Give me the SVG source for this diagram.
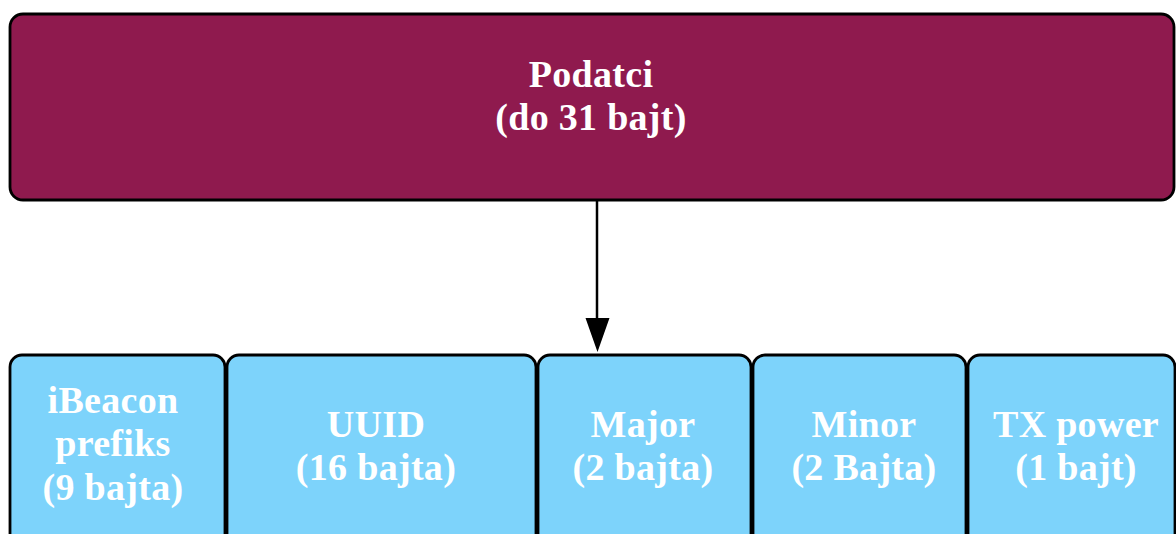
<svg xmlns="http://www.w3.org/2000/svg" width="1176" height="534" viewBox="0 0 1176 534">
  <style>
    .top { fill: #8F1A4E; stroke: #000; stroke-width: 2.8; }
    .fld { fill: #7DD3FB; stroke: #000; stroke-width: 2.8; }
    .lbl { font-family: "Liberation Serif", "Times New Roman", serif; font-weight: bold; font-size: 38px; letter-spacing: 0.3px; fill: #FFFFFF; text-anchor: middle; }
    .conn { stroke: #000; stroke-width: 2.5; fill: none; }
    .head { fill: #000; }
  </style>
  <rect width="1176" height="534" fill="#FFFFFF"/>
  <g id="connectors">
    <path class="conn" d="M597,200 L597,318"/>
    <path class="head" d="M585.5,318 L609.5,318 L597.5,352 Z"/>
  </g>
  <g id="podatci">
    <rect class="top" x="10" y="14" width="1164" height="186" rx="13" ry="13"/>
    <text class="lbl" x="591" y="87">Podatci</text>
    <text class="lbl" x="591" y="130">(do 31 bajt)</text>
  </g>
  <g id="ibeacon">
    <rect class="fld" x="10" y="355" width="215" height="210" rx="12" ry="12"/>
    <text class="lbl" x="113" y="413">iBeacon</text>
    <text class="lbl" x="113" y="456">prefiks</text>
    <text class="lbl" x="113" y="500">(9 bajta)</text>
  </g>
  <g id="uuid">
    <rect class="fld" x="227" y="355" width="309" height="210" rx="12" ry="12"/>
    <text class="lbl" x="376" y="437">UUID</text>
    <text class="lbl" x="376" y="480">(16 bajta)</text>
  </g>
  <g id="major">
    <rect class="fld" x="538" y="355" width="213" height="210" rx="12" ry="12"/>
    <text class="lbl" x="643" y="437">Major</text>
    <text class="lbl" x="643" y="480">(2 bajta)</text>
  </g>
  <g id="minor">
    <rect class="fld" x="753" y="355" width="213" height="210" rx="12" ry="12"/>
    <text class="lbl" x="864" y="437">Minor</text>
    <text class="lbl" x="864" y="480">(2 Bajta)</text>
  </g>
  <g id="txpower">
    <rect class="fld" x="968" y="355" width="207" height="210" rx="12" ry="12"/>
    <text class="lbl" x="1076" y="437">TX power</text>
    <text class="lbl" x="1076" y="480">(1 bajt)</text>
  </g>
</svg>
